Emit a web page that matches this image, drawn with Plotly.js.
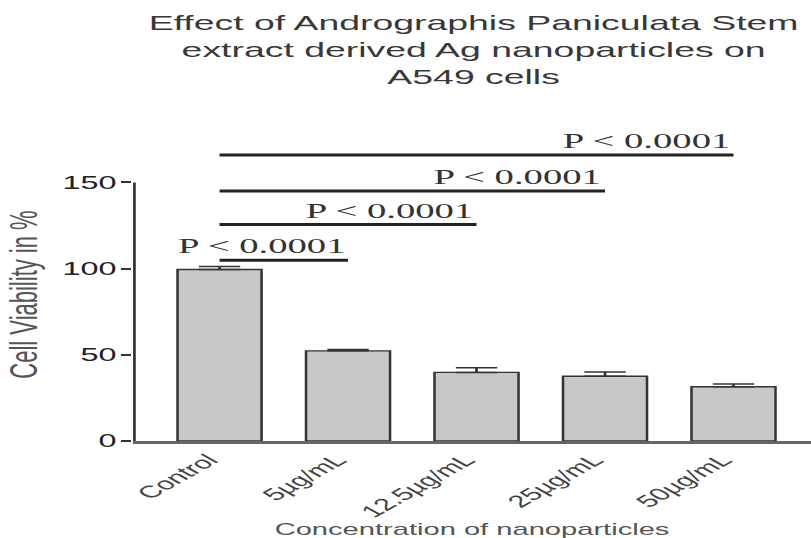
<!DOCTYPE html>
<html>
<head>
<meta charset="utf-8">
<script src="https://cdn.plot.ly/plotly-3.0.1.min.js"></script>
<style>
  html, body { margin: 0; padding: 0; background: #ffffff; overflow: hidden; }
  #wrap { width: 451px; height: 538px; transform: scaleX(1.7982); transform-origin: 0 0; }
  #plot { width: 451px; height: 538px; }
</style>
</head>
<body>
<div id="wrap"><div id="plot"></div></div>
<script>
// ---- data ----
const categories = ['Control', '5µg/mL', '12.5µg/mL', '25µg/mL', '50µg/mL'];
const viability = [99.5, 52.3, 39.8, 37.6, 31.5];
const sem = [1.7, 0.8, 2.7, 2.4, 1.5];
const yTicks = [0, 50, 100, 150];

// significance comparisons: Control vs group index
const compareTo = [4, 3, 2, 1];
const pLabels = ['P < 0.0001', 'P < 0.0001', 'P < 0.0001', 'P < 0.0001'];
const bracketY = [166, 145, 125.6, 104.8];

const ink = '#333333';

const trace = {
  type: 'bar',
  x: categories,
  y: viability,
  marker: { color: '#c8c8c8', line: { color: ink, width: 1.4 } },
  error_y: {
    type: 'data', symmetric: false, array: sem,
    arrayminus: sem.map(() => 0),
    color: ink, thickness: 1.5, width: 11.5
  },
  hoverinfo: 'skip'
};

const shapes = [
  // y axis line (only from 0 to 150)
  { type: 'line', xref: 'paper', yref: 'y', x0: 0.002, x1: 0.002, y0: 0, y1: 150,
    line: { color: ink, width: 1.5 } }
];
const annotations = [];
compareTo.forEach((k, i) => {
  shapes.push({ type: 'line', xref: 'x', yref: 'y', x0: 0, x1: k, y0: bracketY[i], y1: bracketY[i],
    line: { color: '#222222', width: 3 } });
  annotations.push({ xref: 'x', yref: 'y', x: k, y: bracketY[i], xanchor: 'right', yanchor: 'bottom',
    text: pLabels[i], showarrow: false,
    font: { family: 'Liberation Serif, Times New Roman, serif', size: 21.5, color: '#333330' } });
});

const layout = {
  width: 451, height: 538,
  margin: { l: 74, r: 0, t: 147.5, b: 97 },
  paper_bgcolor: '#ffffff', plot_bgcolor: '#ffffff',
  showlegend: false,
  bargap: 0.346,
  title: {
    text: 'Effect of Andrographis Paniculata Stem<br>extract derived Ag nanoparticles on<br>A549 cells',
    x: 0.584, xref: 'container', xanchor: 'center',
    y: 0.945, yref: 'container', yanchor: 'top',
    font: { family: 'Liberation Sans, Arial, sans-serif', size: 20.8, color: '#383838' }
  },
  xaxis: {
    type: 'category',
    range: [-0.673, 4.603],
    showline: true, linecolor: '#666666', linewidth: 2.5,
    ticks: '', tickangle: -45, ticklabelshift: -6,
    tickfont: { family: 'Liberation Sans, Arial, sans-serif', size: 17, color: '#444444' },
    showgrid: false, zeroline: false, fixedrange: true,
    title: { text: 'Concentration of nanoparticles', standoff: 6,
      font: { family: 'Liberation Sans, Arial, sans-serif', size: 16.2, color: '#555555' } }
  },
  yaxis: {
    range: [0, 170],
    tickvals: yTicks, ticktext: yTicks.map(String),
    ticks: 'outside', ticklen: 5.6, tickwidth: 2, tickcolor: ink,
    ticklabelstandoff: -1,
    tickfont: { family: 'Liberation Sans, Arial, sans-serif', size: 18, color: '#222222' },
    showline: false, showgrid: false, zeroline: false, fixedrange: true,
    title: { text: 'Cell Viability in %', standoff: 7,
      font: { family: 'Liberation Sans, Arial, sans-serif', size: 22, color: '#555555' } }
  },
  shapes: shapes,
  annotations: annotations
};

Plotly.newPlot('plot', [trace], layout, { displayModeBar: false, staticPlot: true });
</script>
</body>
</html>
